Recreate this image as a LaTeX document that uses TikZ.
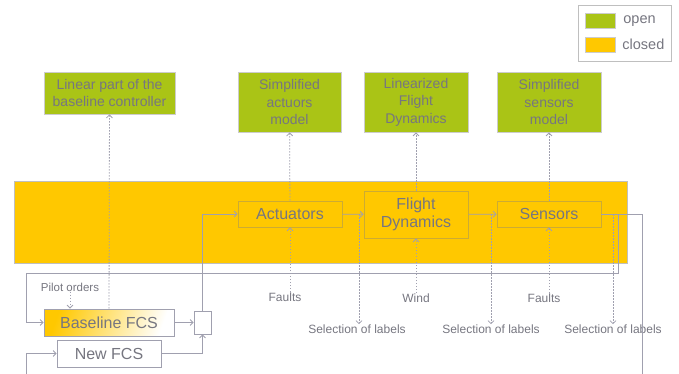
\documentclass[tikz,border=0pt]{standalone}
\usepackage{fontspec}
\setmainfont{Liberation Sans}
\usetikzlibrary{arrows.meta,positioning}

\definecolor{openclr}{RGB}{170,196,22}
\definecolor{closedclr}{RGB}{255,200,0}
\definecolor{wireclr}{RGB}{160,160,175}
\definecolor{txtclr}{RGB}{118,118,128}

\begin{document}
\begin{tikzpicture}
[x=1pt, y=-1pt, text=txtclr, line width=0.8pt,
>={Straight Barb[length=3pt,width=6pt]},
wire/.style = {draw=wireclr},
dotwire/.style = {draw=wireclr, dash pattern=on 1.5pt off 1.5pt},
openbox/.style = {rectangle, draw=black!20, fill=openclr, align=center, inner sep=0pt,
                  font=\fontsize{14}{17.5}\selectfont},
closedbox/.style = {rectangle, draw=closedclr!75!black!80, fill=closedclr, align=center, inner sep=0pt,
                    minimum height=26pt, font=\fontsize{16}{18}\selectfont},
fcsbox/.style = {rectangle, draw=wireclr, fill=white, inner sep=0pt, minimum height=27pt,
                 font=\fontsize{16}{18}\selectfont},
smalltxt/.style = {inner sep=0pt, font=\fontsize{12}{14}\selectfont}]

\useasboundingbox (0,0) rectangle (679,374);
\clip (0,0) rectangle (679,374);

% legend
\draw[draw=black!25, fill=white] (578,5) rectangle (671,61);
\draw[draw=black!20, fill=openclr] (585,13) rectangle (615,28);
\draw[draw=black!20, fill=closedclr] (585,37) rectangle (615,52);
\node[anchor=west, inner sep=0pt, font=\fontsize{14.5}{16}\selectfont] (lopen) at (623,21) {open};
\node[anchor=west, inner sep=0pt, font=\fontsize{14.5}{16}\selectfont] (lclosed) at (622,44) {closed};

% closed loop region
\draw[draw=black!25, fill=closedclr] (14,181) rectangle (627,263);

% open loop models
\node[openbox, minimum width=131pt, minimum height=42pt] (lin) at (109.5,93) {Linear part of the\\baseline controller};
\node[openbox, minimum width=103pt, minimum height=60pt] (actm) at (289.5,102) {Simplified\\actuors\\model};
\node[openbox, minimum width=104pt, minimum height=60pt] (fdm) at (416,102) {Linearized\\Flight\\Dynamics};
\node[openbox, minimum width=104pt, minimum height=60pt] (senm) at (549,102) {Simplified\\sensors\\model};

% closed loop blocks
\node[closedbox, minimum width=104pt] (act) at (290,214) {Actuators};
\node[closedbox, minimum width=104pt, minimum height=47pt] (fd) at (416,214.5) {Flight\\Dynamics};
\node[closedbox, minimum width=104pt] (sen) at (549,214) {Sensors};

% controllers
\node[fcsbox, minimum width=130pt, left color=closedclr, right color=white, shading angle=70] (bfcs) at (109,322.5) {Baseline FCS};
\node[fcsbox, minimum width=104pt] (nfcs) at (109,353.5) {New FCS};
\node[fcsbox, minimum width=17pt, minimum height=23pt] (sw) at (202.5,322.5) {};

% inputs and outputs
\node[smalltxt, font=\fontsize{11.5}{13}\selectfont] (pilot) at (70,287) {Pilot orders};
\node[smalltxt] (faults1) at (285,297) {Faults};
\node[smalltxt] (wind) at (416,298) {Wind};
\node[smalltxt] (faults2) at (544,298) {Faults};
\node[smalltxt] (sel1) at (357,329) {Selection of labels};
\node[smalltxt] (sel2) at (491,329) {Selection of labels};
\node[smalltxt] (sel3) at (613,329) {Selection of labels};

\coordinate (s1) at (359,214);
\coordinate (s2) at (491,214);
\coordinate (s3) at (613,214);
\coordinate (fb) at (618,214);

% signal paths
\draw[wire,->] (act) -- (fd);
\draw[wire,->] (fd) -- (sen);
\draw[wire,->] (bfcs) -- (sw);
\draw[wire,->] (nfcs.east) -| (sw.south);
\draw[wire,->] (sw.north) |- (act.west);
\draw[wire,->] (fb) |- (26,273) |- (bfcs.west);
\draw[wire,->] (sen.east) -| (642,392) -- (26,392) |- (nfcs.west);

% linearisation links
\draw[dotwire,->] (bfcs) -- (lin);
\draw[dotwire,->] (act) -- (actm);
\draw[dotwire,->] (fd) -- (fdm);
\draw[dotwire,->] (sen) -- (senm);
\draw[dotwire,->] (pilot) -- (pilot |- bfcs.north);
\draw[dotwire,->] (act.south |- faults1.north) -- (act.south);
\draw[dotwire,->] (wind) -- (fd);
\draw[dotwire,->] (sen.south |- faults2.north) -- (sen.south);
\draw[dotwire,->] (s1) -- (s1 |- sel1.north);
\draw[dotwire,->] (s2) -- (s2 |- sel2.north);
\draw[dotwire,->] (s3) -- (s3 |- sel3.north);
\end{tikzpicture}
\end{document}
